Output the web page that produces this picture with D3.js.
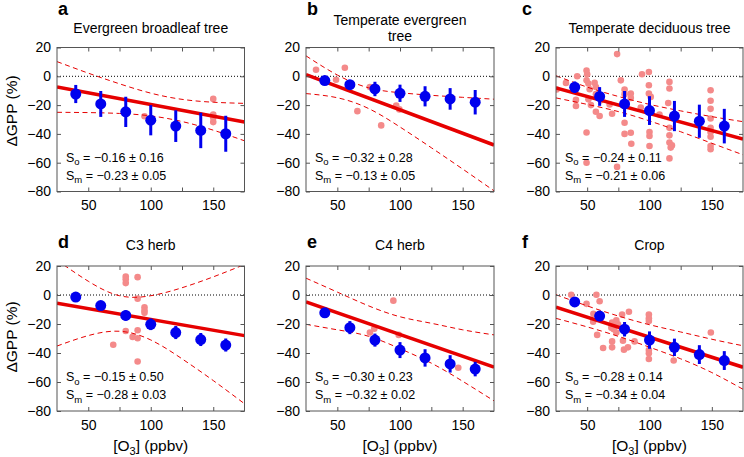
<!DOCTYPE html>
<html><head><meta charset="utf-8">
<script src="https://cdn.jsdelivr.net/npm/d3@7"></script>
<style>
body{margin:0;background:#fff}
svg text{font-family:"Liberation Sans",Arial,Helvetica,sans-serif;fill:#000}
</style>
</head><body>
<svg id="c" width="744" height="457"></svg>
<script>
// ---------- shared axes data ----------
const xTicks = [50, 75, 100, 125, 150];
const xTickLabels = [50, 100, 150];
const yTicks = [20, 0, -20, -40, -60, -80];
const o3Bins = [40, 60, 80, 100, 120, 140, 160];
const bandX = [25, 50, 75, 100, 125, 150, 175];
const fitX = [25, 175];

// ---------- panel a ----------
const aLetter = "a", aTitle = ["Evergreen broadleaf tree"];
const aMean = [-12.3, -19.2, -24.7, -30.5, -34.6, -37.6, -39.9];
const aErr = [6.3, 9, 10.5, 10.5, 11, 12.3, 12.5];
const aObsX = [95, 150, 150, 150, 150];
const aObsY = [-27.7, -15.7, -26.5, -28.8, -31.8];
const aFit = [-7.4, -31.8];
const aUpper = [10.2, 2.2, -5.2, -11.7, -16.0, -18.0, -18.8];
const aLower = [-25.0, -25.2, -25.8, -27.5, -31.4, -37.4, -44.8];
const aSo = "−0.16 ± 0.16", aSm = "−0.23 ± 0.05";

// ---------- panel b ----------
const bLetter = "b", bTitle = ["Temperate evergreen", "tree"];
const bMean = [-3.0, -5.8, -8.8, -11.8, -13.9, -15.7, -18.0];
const bErr = [2, 3, 5, 6, 7, 7.5, 8.5];
const bObsX = [33, 49, 56, 66, 76, 85, 97, 99.5];
const bObsY = [4.6, -2.4, 5.9, -24.2, -7.4, -34.1, -20.3, -23.0];
const bFit = [1.1, -47.7];
const bUpper = [14.2, 0.9, -8.0, -11.4, -13.2, -14.6, -15.9];
const bLower = [-12.0, -14.9, -22.4, -35.2, -49.6, -64.4, -79.5];
const bSo = "−0.32 ± 0.28", bSm = "−0.13 ± 0.05";

// ---------- panel c ----------
const cLetter = "c", cTitle = ["Temperate deciduous tree"];
const cMean = [-7.6, -14.0, -19.2, -23.8, -27.6, -31.2, -34.6];
const cErr = [4, 6.5, 9, 10, 10.5, 11.5, 12];
const cObsX = [25.5, 33, 41, 41, 42, 49.5, 50, 49.5, 51, 52, 51, 53, 49.5, 49.5, 56, 57, 57, 57, 60, 61, 68, 70, 74, 74, 77, 80, 80, 80, 80, 85, 85, 85, 85.4, 93, 94, 99.5, 99.5, 99.5, 99.5, 100, 100, 100, 101, 108, 115, 116, 116, 116, 116, 116, 117, 118, 116, 149, 149, 149, 149, 149, 149, 149, 149, 149];
const cObsY = [-9.2, -4.6, -16.4, -20.6, 0, 4, 1.4, -2.8, -5, -9, -16, -20, -39, -60, -4.6, -7.4, -12.4, -24.6, -27.6, -16.7, -19.5, -26, 15.4, -62.9, -2.8, -9.2, -12.4, -32.3, -40, -12, -15, -39.2, -46.8, -21.7, 1.4, 3, -6.2, -12, -24.7, -38.7, -41.5, -48.4, -14.3, -26.5, -18.5, -3.9, -8.5, -35.8, -41, -46, -49.5, -48, -57, -9.7, -17, -22.6, -29.3, -35.8, -38.8, -42, -48.4, -50.7];
const cFit = [-8.1, -43.5];
const cUpper = [0.4, -7.5, -14.0, -19.5, -24.0, -28.0, -31.5];
const cLower = [-15.0, -19.5, -24.5, -31.0, -38.5, -46.5, -54.5];
const cSo = "−0.24 ± 0.11", cSm = "−0.21 ± 0.06";

// ---------- panel d ----------
const dLetter = "d", dTitle = ["C3 herb"];
const dMean = [-1.4, -7.3, -14.1, -20.2, -25.9, -30.7, -34.5];
const dErr = [2, 2.5, 3.5, 4, 4.5, 4.5, 4.5];
const dObsX = [70, 80, 80, 80, 80, 85.5, 89.5, 89.5, 89.5, 89.5, 89.5, 95, 95, 95];
const dObsY = [-34.3, 12.7, 10.9, 8.2, -24.8, -28.9, -24.3, 12.3, -2.5, -29.8, -45.9, -8.4, -10.7, -12.3];
const dFit = [-5.7, -28.0];
const dUpper = [24.0, 9.5, -0.5, -0.5, 5.0, 12.5, 21.0];
const dLower = [-35.2, -28.0, -25.0, -31.0, -44.0, -59.0, -75.0];
const dSo = "−0.15 ± 0.50", dSm = "−0.28 ± 0.03";

// ---------- panel e ----------
const eLetter = "e", eTitle = ["C4 herb"];
const eMean = [-12.3, -22.5, -31.1, -38.0, -43.4, -47.5, -51.1];
const eErr = [2.5, 4.5, 4.5, 5.5, 6, 6, 5];
const eObsX = [76, 79.5, 94.7, 99, 146.5];
const eObsY = [-25.9, -23.2, -3.9, -27.5, -50.2];
const eFit = [-4.8, -49.8];
const eUpper = [11.6, 2.0, -7.5, -15.0, -19.5, -24.0, -27.5];
const eLower = [-20.2, -24.0, -28.5, -37.0, -47.0, -59.5, -73.0];
const eSo = "−0.30 ± 0.23", eSm = "−0.32 ± 0.02";

// ---------- panel f ----------
const fLetter = "f", fTitle = ["Crop"];
const fMean = [-4.8, -14.5, -23.6, -31.1, -36.1, -41.1, -45.2];
const fErr = [2, 3.5, 5, 6, 6, 6.5, 6.5];
const fObsX = [37.2, 49.5, 57.4, 60, 58, 55, 62.8, 69.4, 70, 70, 70, 73.4, 73.4, 74.7, 71.3, 78, 78.7, 79.5, 82.7, 83.5, 88, 99.5, 99.5, 99.5, 99.5, 99.5, 99.5, 119.4, 149.2, 54.8];
const fObsY = [0.2, -6.1, 0.2, -4.3, -27.5, -13, -36.6, -22.5, -19, -32, -36.1, -17.5, -25.9, -20.2, -23.6, -13.4, -31.6, -37.7, -36.1, -11.6, -32, -13.4, -16.1, -18, -38, -40.2, -44.1, -45.2, -25.9, -18.4];
const fFit = [-8.4, -49.8];
const fUpper = [0.2, -7.5, -14.5, -20.5, -25.5, -30.5, -35.0];
const fLower = [-16.1, -22.0, -28.5, -36.0, -44.0, -53.5, -65.0];
const fSo = "−0.28 ± 0.14", fSm = "−0.34 ± 0.04";

const yLabel = "ΔGPP (%)";

// ---------- assemble ----------
const panels = [
  {letter: aLetter, title: aTitle, mean: aMean, err: aErr, obsX: aObsX, obsY: aObsY, fit: aFit, upper: aUpper, lower: aLower, so: aSo, sm: aSm},
  {letter: bLetter, title: bTitle, mean: bMean, err: bErr, obsX: bObsX, obsY: bObsY, fit: bFit, upper: bUpper, lower: bLower, so: bSo, sm: bSm},
  {letter: cLetter, title: cTitle, mean: cMean, err: cErr, obsX: cObsX, obsY: cObsY, fit: cFit, upper: cUpper, lower: cLower, so: cSo, sm: cSm},
  {letter: dLetter, title: dTitle, mean: dMean, err: dErr, obsX: dObsX, obsY: dObsY, fit: dFit, upper: dUpper, lower: dLower, so: dSo, sm: dSm},
  {letter: eLetter, title: eTitle, mean: eMean, err: eErr, obsX: eObsX, obsY: eObsY, fit: eFit, upper: eUpper, lower: eLower, so: eSo, sm: eSm},
  {letter: fLetter, title: fTitle, mean: fMean, err: fErr, obsX: fObsX, obsY: fObsY, fit: fFit, upper: fUpper, lower: fLower, so: fSo, sm: fSm}
];

const colX = [[57, 244.5], [306, 494], [556, 743]];
const rowY = [[47.5, 191.5], [266, 411]];
const letterX = [58, 307, 522];
const letterBase = [15, 248];
const titleBase = [32.5, 250];

const RED = "#e60000", PINK = "#f48a8a", BLUE = "#0000ee", FRAME = "#555";

const svg = d3.select("#c");
const defs = svg.append("defs");

panels.forEach((p, i) => {
  const col = i % 3, row = Math.floor(i / 3);
  const [x0, x1] = colX[col];
  const [y0, y1] = rowY[row];
  const x = d3.scaleLinear().domain([25, 175]).range([x0, x1]);
  const y = d3.scaleLinear().domain([-80, 20]).range([y1, y0]);
  const g = svg.append("g");
  const cid = "clip" + i;
  defs.append("clipPath").attr("id", cid).append("rect")
    .attr("x", x0).attr("y", y0).attr("width", x1 - x0).attr("height", y1 - y0);
  const pg = g.append("g").attr("clip-path", `url(#${cid})`);

  // zero line
  pg.append("line").attr("x1", x(25)).attr("x2", x(175)).attr("y1", y(0)).attr("y2", y(0))
    .attr("stroke", "#000").attr("stroke-width", 1).attr("stroke-dasharray", "1,2");

  // observations
  pg.selectAll("circle.obs").data(d3.zip(p.obsX, p.obsY)).join("circle")
    .attr("class", "obs").attr("cx", d => x(d[0])).attr("cy", d => y(d[1]))
    .attr("r", 3.3).attr("fill", PINK);

  // confidence band
  const bandLine = d3.line().x(d => x(d[0])).y(d => y(d[1])).curve(d3.curveNatural);
  [p.upper, p.lower].forEach(arr => {
    pg.append("path").attr("d", bandLine(d3.zip(bandX, arr)))
      .attr("fill", "none").attr("stroke", RED).attr("stroke-width", 1)
      .attr("stroke-dasharray", "5,3.5");
  });

  // fit line
  pg.append("path").attr("d", d3.line().x(d => x(d[0])).y(d => y(d[1]))(d3.zip(fitX, p.fit)))
    .attr("stroke", RED).attr("stroke-width", 3.5).attr("fill", "none");

  // model means with error bars
  const md = d3.zip(o3Bins, p.mean, p.err);
  g.selectAll("line.eb").data(md).join("line").attr("class", "eb")
    .attr("x1", d => x(d[0])).attr("x2", d => x(d[0]))
    .attr("y1", d => y(d[1] - d[2])).attr("y2", d => y(d[1] + d[2]))
    .attr("stroke", BLUE).attr("stroke-width", 3);
  g.selectAll("circle.mean").data(md).join("circle").attr("class", "mean")
    .attr("cx", d => x(d[0])).attr("cy", d => y(d[1])).attr("r", 5.5).attr("fill", BLUE);

  // axes (inward ticks)
  const styleAxis = a => {
    a.select(".domain").remove();
    a.selectAll(".tick line").attr("stroke", FRAME);
    a.selectAll("text").style("font-size", "14px").attr("fill", "#000");
  };
  g.append("g").attr("transform", `translate(0,${y1})`)
    .call(d3.axisBottom(x).tickValues(xTicks).tickSize(-4).tickPadding(9)
      .tickFormat(d => xTickLabels.includes(d) ? d : ""))
    .call(styleAxis);
  g.append("g").attr("transform", `translate(0,${y0})`)
    .call(d3.axisTop(x).tickValues(xTicks).tickSize(-4).tickFormat(""))
    .call(styleAxis);
  g.append("g").attr("transform", `translate(${x0},0)`)
    .call(d3.axisLeft(y).tickValues(yTicks).tickSize(-4).tickPadding(6).tickFormat(d3.format("d")))
    .call(styleAxis);
  g.append("g").attr("transform", `translate(${x1},0)`)
    .call(d3.axisRight(y).tickValues(yTicks).tickSize(-4).tickFormat(""))
    .call(styleAxis);

  // frame
  g.append("rect").attr("x", x0).attr("y", y0).attr("width", x1 - x0).attr("height", y1 - y0)
    .attr("fill", "none").attr("stroke", FRAME).attr("stroke-width", 1);

  // panel letter
  g.append("text").attr("x", letterX[col]).attr("y", letterBase[row])
    .style("font-size", "18px").style("font-weight", "bold").text(p.letter);

  // title
  const cx = (x0 + x1) / 2;
  if (p.title.length === 1) {
    g.append("text").attr("x", cx).attr("y", titleBase[row]).attr("text-anchor", "middle")
      .style("font-size", "14px").text(p.title[0]);
  } else {
    p.title.forEach((t, k) => {
      g.append("text").attr("x", cx).attr("y", 25 + k * 15.5).attr("text-anchor", "middle")
        .style("font-size", "14px").text(t);
    });
  }

  // slope annotations
  [["o", p.so, y1 - 30], ["m", p.sm, y1 - 12]].forEach(([sub, val, yy]) => {
    const t = g.append("text").attr("x", x0 + 9).attr("y", yy).style("font-size", "12.5px");
    t.append("tspan").text("S");
    t.append("tspan").attr("dy", 3.5).style("font-size", "9.5px").text(sub);
    t.append("tspan").attr("dy", -3.5).text(" = " + val);
  });

  // y label on first column
  if (col === 0) {
    const cy = row === 0 ? 111 : 337;
    g.append("text").attr("transform", `translate(17,${cy}) rotate(-90)`)
      .attr("text-anchor", "middle").style("font-size", "15.5px").text(yLabel);
  }
  // x label on bottom row
  if (row === 1) {
    const t = g.append("text").attr("x", cx).attr("y", 451).attr("text-anchor", "middle")
      .style("font-size", "15.5px");
    t.append("tspan").text("[O");
    t.append("tspan").attr("dy", 4).style("font-size", "11px").text("3");
    t.append("tspan").attr("dy", -4).text("] (ppbv)");
  }
});
</script>
</body></html>
